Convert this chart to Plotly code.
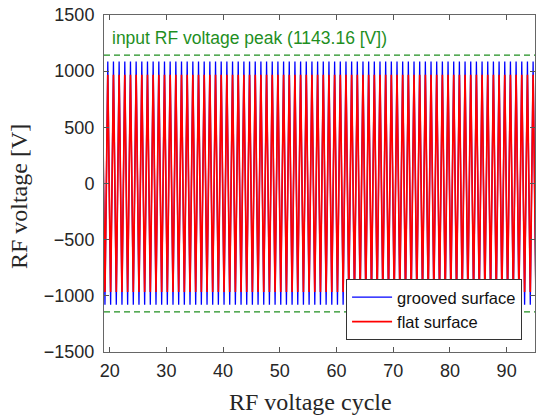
import plotly.graph_objects as go

# RF cycle index (each cycle: one peak and one trough)
cycles = list(range(18, 96))

# peak / trough voltages per cycle [V]
grooved_max = [1085, 1085, 1085, 1085, 1085, 1085, 1085, 1085, 1085, 1085, 1085, 1085, 1085,
               1085, 1085, 1085, 1085, 1085, 1085, 1085, 1085, 1085, 1085, 1085, 1085, 1085,
               1085, 1085, 1085, 1085, 1085, 1085, 1085, 1085, 1085, 1085, 1085, 1085, 1085,
               1085, 1085, 1085, 1085, 1085, 1085, 1085, 1085, 1085, 1085, 1085, 1085, 1085,
               1085, 1085, 1085, 1085, 1085, 1085, 1085, 1085, 1085, 1085, 1085, 1085, 1085,
               1085, 1085, 1085, 1085, 1085, 1085, 1085, 1085, 1085, 1085, 1085, 1085, 1085]
grooved_min = [-1080, -1080, -1080, -1080, -1080, -1080, -1080, -1080, -1080, -1080, -1080, -1080, -1080,
               -1080, -1080, -1080, -1080, -1080, -1080, -1080, -1080, -1080, -1080, -1080, -1080, -1080,
               -1080, -1080, -1080, -1080, -1080, -1080, -1080, -1080, -1080, -1080, -1080, -1080, -1080,
               -1080, -1080, -1080, -1080, -1080, -1080, -1080, -1080, -1080, -1080, -1080, -1080, -1080,
               -1080, -1080, -1080, -1080, -1080, -1080, -1080, -1080, -1080, -1080, -1080, -1080, -1080,
               -1080, -1080, -1080, -1080, -1080, -1080, -1080, -1080, -1080, -1080, -1080, -1080, -1080]
flat_max = [968, 968, 968, 968, 968, 968, 968, 968, 968, 968, 968, 968, 968,
            968, 968, 968, 968, 968, 968, 968, 968, 968, 968, 968, 968, 968,
            968, 968, 968, 968, 968, 968, 968, 968, 968, 968, 968, 968, 968,
            968, 968, 968, 968, 968, 968, 968, 968, 968, 968, 968, 968, 968,
            968, 968, 968, 968, 968, 968, 968, 968, 968, 968, 968, 968, 968,
            968, 968, 968, 968, 968, 968, 968, 968, 968, 968, 968, 968, 968]
flat_min = [-965, -965, -965, -965, -965, -965, -965, -965, -965, -965, -965, -965, -965,
            -965, -965, -965, -965, -965, -965, -965, -965, -965, -965, -965, -965, -965,
            -965, -965, -965, -965, -965, -965, -965, -965, -965, -965, -965, -965, -965,
            -965, -965, -965, -965, -965, -965, -965, -965, -965, -965, -965, -965, -965,
            -965, -965, -965, -965, -965, -965, -965, -965, -965, -965, -965, -965, -965,
            -965, -965, -965, -965, -965, -965, -965, -965, -965, -965, -965, -965, -965]

input_peak = 1143.16
x_ticks = [20, 30, 40, 50, 60, 70, 80, 90]
y_ticks = [-1500, -1000, -500, 0, 500, 1000, 1500]

# phase offsets of peak and trough within a cycle
PEAK_OFF = 0.667
TROUGH_OFF = 1.167


def wave(maxs, mins):
    xs, ys = [], []
    for c, hi, lo in zip(cycles, maxs, mins):
        xs += [c + PEAK_OFF, c + TROUGH_OFF]
        ys += [hi, lo]
    return xs, ys


gx, gy = wave(grooved_max, grooved_min)
fx, fy = wave(flat_max, flat_min)

GREEN = "#1f8f1f"
fig = go.Figure()
fig.add_trace(go.Scatter(x=gx, y=gy, mode="lines", name="grooved surface",
                         line=dict(color="#0000ff", width=1.3)))
fig.add_trace(go.Scatter(x=fx, y=fy, mode="lines", name="flat surface",
                         line=dict(color="#ff0000", width=1.7)))
for v in (input_peak, -input_peak):
    fig.add_trace(go.Scatter(x=[19, 95], y=[v, v], mode="lines", showlegend=False,
                             line=dict(color=GREEN, width=1.3, dash="6px,4px")))

fig.add_annotation(x=20.1, y=1295, xref="x", yref="y", xanchor="left", yanchor="middle",
                   text="input RF voltage peak (1143.16 [V])", showarrow=False,
                   font=dict(family="Liberation Sans, Arial", size=17.5, color=GREEN))

fig.add_annotation(x=(310 - 104) / 431, y=-0.147, xref="paper", yref="paper",
                   xanchor="center", yanchor="middle", text="RF voltage cycle",
                   showarrow=False, font=dict(family="Liberation Serif", size=24, color="#262626"))
fig.add_annotation(x=-0.197, y=(352 - 197) / 337, xref="paper", yref="paper",
                   xanchor="center", yanchor="middle", text="RF voltage [V]", textangle=-90,
                   showarrow=False, font=dict(family="Liberation Serif", size=24, color="#262626"))

axis_common = dict(showgrid=False, zeroline=False, showline=True, linecolor="#666666",
                   linewidth=1, mirror="allticks", ticks="inside", ticklen=5,
                   tickcolor="#555555",
                   tickfont=dict(family="Liberation Sans, Arial", size=18, color="#262626"))

fig.update_layout(
    width=536, height=415,
    margin=dict(l=104, r=1, t=15, b=63),
    paper_bgcolor="white", plot_bgcolor="white",
    xaxis=dict(range=[19, 95], tickvals=x_ticks, ticklabelstandoff=2, **axis_common),
    yaxis=dict(range=[-1500, 1500], tickvals=y_ticks, ticklabelstandoff=5, **axis_common),
    legend=dict(x=0.97, y=0.036, xanchor="right", yanchor="bottom",
                bgcolor="white", bordercolor="#333333", borderwidth=1,
                font=dict(family="Liberation Sans, Arial", size=16.5, color="#111111"),
                tracegroupgap=0, itemwidth=40),
    showlegend=True,
)

fig.write_html("out.html")
